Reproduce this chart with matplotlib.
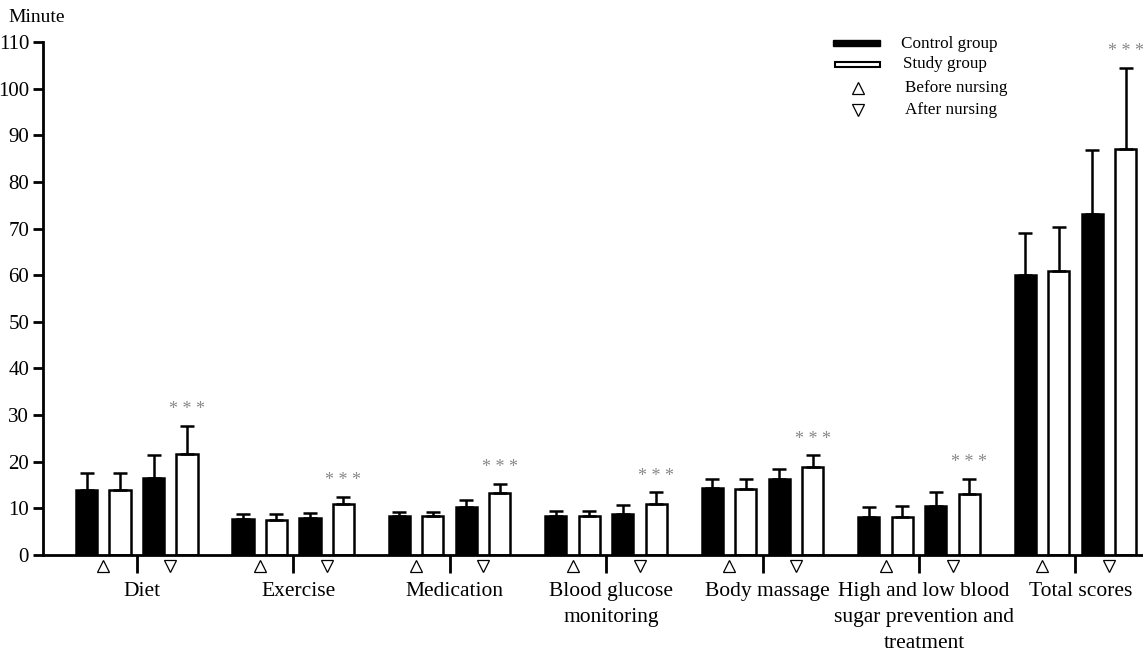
import numpy as np
import matplotlib.pyplot as plt
from matplotlib.patches import Rectangle
from matplotlib.lines import Line2D

plt.rcParams['font.family'] = ['Liberation Serif', 'DejaVu Serif']

categories = ['Diet', 'Exercise', 'Medication', 'Blood glucose\nmonitoring', 'Body massage',
              'High and low blood\nsugar prevention and\ntreatment', 'Total scores']

control_before = [14.0, 7.7, 8.4, 8.4, 14.3, 8.2, 60.0]
control_before_sd = [3.5, 1.1, 0.8, 1.1, 2.1, 2.1, 9.1]
study_before = [14.0, 7.5, 8.3, 8.3, 14.1, 8.1, 60.8]
study_before_sd = [3.5, 1.2, 0.9, 1.2, 2.1, 2.3, 9.6]
control_after = [16.5, 8.0, 10.3, 8.8, 16.2, 10.4, 73.1]
control_after_sd = [5.0, 1.0, 1.4, 2.0, 2.2, 3.2, 13.7]
study_after = [21.7, 11.0, 13.2, 11.0, 18.9, 13.1, 87.0]
study_after_sd = [6.0, 1.5, 2.1, 2.5, 2.5, 3.3, 17.5]

yticks = np.arange(0, 111, 10)

fig = plt.figure(figsize=(11.43, 6.56), dpi=100)
ax = fig.add_axes([43 / 1143, 1 - 555 / 656, 1 - 43 / 1143, 513 / 656])

group_step = 4.67
width = 0.63
centers = np.arange(len(categories)) * group_step

series = [
    (control_before, control_before_sd, 0, 'black'),
    (study_before, study_before_sd, 1, 'white'),
    (control_after, control_after_sd, 2, 'black'),
    (study_after, study_after_sd, 3, 'white'),
]
for vals, sd, off, color in series:
    x = centers + off
    ax.bar(x, vals, width=width, color=color, edgecolor='black', linewidth=1.8, zorder=2)
    ax.errorbar(x, vals, yerr=[np.zeros(len(vals)), sd], fmt='none', ecolor='black',
                elinewidth=1.8, capsize=5, capthick=1.8, zorder=3)

# significance stars above study group after nursing
for c, v, s in zip(centers, study_after, study_after_sd):
    ax.text(c + 3, v + s + 1.6, '* * *', ha='center', va='bottom', fontsize=13, color='#888888')

trans = ax.get_xaxis_transform()
ax.plot(centers + 0.5, np.full(len(centers), -0.021), linestyle='none', marker='^', markersize=8.5,
        markerfacecolor='white', markeredgecolor='black', markeredgewidth=0.9, transform=trans, clip_on=False)
ax.plot(centers + 2.5, np.full(len(centers), -0.021), linestyle='none', marker='v', markersize=8.5,
        markerfacecolor='white', markeredgecolor='black', markeredgewidth=0.9, transform=trans, clip_on=False)

for c, name in zip(centers, categories):
    ax.text(c + 1.65, -0.053, name, transform=trans, ha='center', va='top', fontsize=15.5,
            linespacing=1.5)

ax.set_xticks(centers + 1.5)
ax.set_xticklabels([])
ax.tick_params(axis='x', length=13, width=2, direction='out')
ax.set_yticks(yticks)
ax.tick_params(axis='y', length=7, width=2, labelsize=15, pad=3)
ax.set_ylim(0, 110)
ax.set_xlim(-1.3, -1.3 + 1100 / 33.5)

for side in ['top', 'right']:
    ax.spines[side].set_visible(False)
for side in ['left', 'bottom']:
    ax.spines[side].set_linewidth(2)

fig.text(8 / 1143, 1 - 18 / 656, 'Minute', fontsize=14, va='center', ha='left')


def px(x, y):
    return x / 1143, 1 - y / 656


# legend drawn by hand
fig.add_artist(Rectangle(px(833, 46), 47 / 1143, 6 / 656, transform=fig.transFigure,
                         facecolor='black', edgecolor='black'))
fig.add_artist(Rectangle(px(835, 67), 45 / 1143, 5 / 656, transform=fig.transFigure,
                         facecolor='white', edgecolor='black', linewidth=1.5))
fig.add_artist(Line2D([858 / 1143], [1 - 88 / 656], marker='^', markersize=8.5, markerfacecolor='white',
                      markeredgecolor='black', markeredgewidth=0.9, transform=fig.transFigure))
fig.add_artist(Line2D([858 / 1143], [1 - 110 / 656], marker='v', markersize=8.5, markerfacecolor='white',
                      markeredgecolor='black', markeredgewidth=0.9, transform=fig.transFigure))
for lx, ly, txt in [(901, 44, 'Control group'), (903, 64, 'Study group'),
                    (905, 88, 'Before nursing'), (905, 110, 'After nursing')]:
    fig.text(*px(lx, ly), txt, fontsize=12.3, va='center', ha='left')

fig.savefig('out.png', dpi=100)
